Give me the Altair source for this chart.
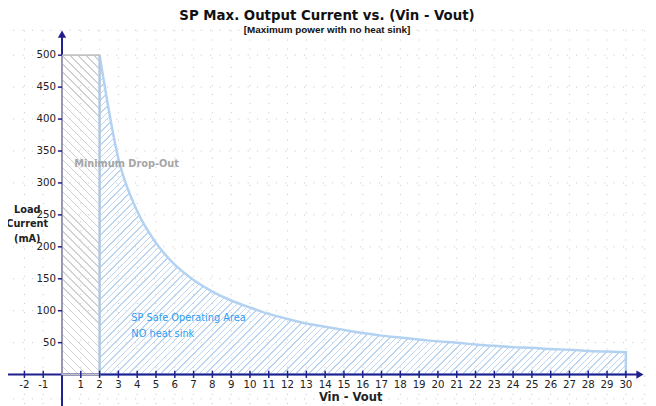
import math
import altair as alt
import pandas as pd

# ---------------- data ----------------
vd = [2, 3, 4, 5, 6, 7, 8, 9, 10, 11, 12, 13, 14, 15, 16, 17, 18, 19, 20,
      21, 22, 23, 24, 25, 26, 27, 28, 29, 30]
current = [500, 338, 256, 206, 172, 148, 130, 116, 105, 95, 87, 80, 75, 70,
           65, 61, 58, 55, 52, 50, 47, 45, 43, 42, 40, 39, 37, 36, 35]
dropout_x = [0, 2]
dropout_top = 500
x_tick_vals = [-2, -1] + list(range(1, 31))
y_tick_vals = [50, 100, 150, 200, 250, 300, 350, 400, 450, 500]
grid_x_vals = list(range(-3, 32))
grid_y_vals = [-38, 50, 100, 150, 200, 250, 300, 350, 400, 450, 500, 539]

TITLE = "SP Max. Output Current vs. (Vin - Vout)"
SUBTITLE = "[Maximum power with no heat sink]"

# ---------------- geometry / style ----------------
W, H = 648, 398
XD = [-2.874, 31.178]
YD = [-45.3, 570.0]
pxx = W / (XD[1] - XD[0])
pxy = H / (YD[1] - YD[0])
X = alt.Scale(domain=XD, nice=False, zero=False)
Y = alt.Scale(domain=YD, nice=False, zero=False)

NAVY = "#1e1e8c"
FONT = "DejaVu Sans Condensed, DejaVu Sans"
CLEAR = "rgba(255,255,255,0)"


def hatch(color, w, h, spacing, lw, direction):
    D = (w + h) / math.sqrt(2)
    if direction == "/":
        g = (1 / h, 1 / w)
        start = (0.0, 0.0)
        vec = (1.0, 1.0)
    else:
        g = (1 / h, -1 / w)
        start = (0.0, 1.0)
        vec = (1.0, -1.0)
    t = (vec[0] * g[0] + vec[1] * g[1]) / (g[0] ** 2 + g[1] ** 2)
    end = (start[0] + t * g[0], start[1] + t * g[1])
    stops = []
    n = int(D / spacing) + 1
    for k in range(n + 1):
        o = k * spacing / D
        if o > 1:
            break
        o2 = min(o + lw / D, 1.0)
        stops += [
            alt.GradientStop(color=CLEAR, offset=o),
            alt.GradientStop(color=color, offset=o),
            alt.GradientStop(color=color, offset=o2),
            alt.GradientStop(color=CLEAR, offset=o2),
        ]
    return alt.LinearGradient(gradient="linear", stops=stops,
                              x1=start[0], y1=start[1], x2=end[0], y2=end[1])


blue_w = (vd[-1] - vd[0]) * pxx
blue_h = max(current) * pxy
gray_w = (dropout_x[1] - dropout_x[0]) * pxx
gray_h = dropout_top * pxy

blue_fill = hatch("#bcd5f0", blue_w, blue_h, 4.6, 1.0, "/")
gray_fill = hatch("#d2d2d2", gray_w, gray_h, 5.7, 1.0, "\\")

# ---------------- tables ----------------
curve_df = pd.DataFrame({"vd": vd, "i": current})
drop_df = pd.DataFrame({"x": [dropout_x[0]], "x2": [dropout_x[1]],
                        "y": [0], "y2": [dropout_top]})
xt_df = pd.DataFrame({"v": x_tick_vals, "lab": [str(v) for v in x_tick_vals]})
yt_df = pd.DataFrame({"v": y_tick_vals, "lab": [str(v) for v in y_tick_vals]})
gx_df = pd.DataFrame({"v": grid_x_vals})
gy_df = pd.DataFrame({"v": grid_y_vals})
one = pd.DataFrame({"k": [0]})

# ---------------- layers ----------------
grid_v = alt.Chart(gx_df).mark_rule(color="#c4c4c4", strokeWidth=1,
                                    strokeDash=[1, 8.2]).encode(
    x=alt.X("v:Q", scale=X, axis=None),
    y=alt.Y(datum=-46, scale=Y, axis=None),
    y2=alt.Y2(datum=542),
)
grid_h = alt.Chart(gy_df).mark_rule(color="#c4c4c4", strokeWidth=1,
                                    strokeDash=[1, 8.5]).encode(
    y=alt.Y("v:Q", scale=Y, axis=None),
    x=alt.X(datum=-3.1, scale=X, axis=None),
    x2=alt.X2(datum=31.2),
)

drop_rect = alt.Chart(drop_df).mark_rect(
    fill=gray_fill, stroke="#c2c2c2", strokeWidth=1.5
).encode(
    x=alt.X("x:Q", scale=X, axis=None), x2="x2:Q",
    y=alt.Y("y:Q", scale=Y, axis=None), y2="y2:Q",
)
drop_outline = drop_rect.mark_rect(fill="transparent", stroke="#c2c2c2",
                                   strokeWidth=1.5)

area = alt.Chart(curve_df).mark_area(
    fill=blue_fill, stroke="#b3d2f2", strokeWidth=2.5, interpolate="monotone",
    strokeJoin="miter"
).encode(
    x=alt.X("vd:Q", scale=X, axis=None),
    y=alt.Y("i:Q", scale=Y, axis=None),
)

x_axis = alt.Chart(one).mark_rule(color=NAVY, strokeWidth=2).encode(
    x=alt.X(datum=-2.98, scale=X, axis=None), x2=alt.X2(datum=30.8),
    y=alt.Y(datum=0, scale=Y, axis=None),
)
y_axis = alt.Chart(one).mark_rule(color=NAVY, strokeWidth=2).encode(
    x=alt.X(datum=0, scale=X, axis=None),
    y=alt.Y(datum=-50, scale=Y, axis=None), y2=alt.Y2(datum=530),
)
x_arrow = alt.Chart(one).mark_point(
    shape="triangle-right", filled=True, color=NAVY, size=70, opacity=1
).encode(x=alt.X(datum=30.75, scale=X, axis=None),
         y=alt.Y(datum=0, scale=Y, axis=None))
y_arrow = alt.Chart(one).mark_point(
    shape="triangle-up", filled=True, color=NAVY, size=70, opacity=1
).encode(x=alt.X(datum=0, scale=X, axis=None),
         y=alt.Y(datum=533, scale=Y, axis=None))

x_ticks = alt.Chart(xt_df).mark_rule(color=NAVY, strokeWidth=1.5).encode(
    x=alt.X("v:Q", scale=X, axis=None),
    y=alt.Y(datum=6.2, scale=Y, axis=None), y2=alt.Y2(datum=-5.2),
)
y_ticks = alt.Chart(yt_df).mark_rule(color=NAVY, strokeWidth=1.5).encode(
    y=alt.Y("v:Q", scale=Y, axis=None),
    x=alt.X(datum=-0.22, scale=X, axis=None), x2=alt.X2(datum=0),
)

x_labels = alt.Chart(xt_df).mark_text(
    font=FONT, fontSize=11.5, color="#222222", baseline="middle", dy=11
).encode(
    x=alt.X("v:Q", scale=X, axis=None),
    y=alt.Y(datum=0, scale=Y, axis=None),
    text="lab:N",
)
y_labels = alt.Chart(yt_df).mark_text(
    font=FONT, fontSize=11.5, color="#222222", baseline="middle",
    align="right", dx=-6
).encode(
    y=alt.Y("v:Q", scale=Y, axis=None),
    x=alt.X(datum=0, scale=X, axis=None),
    text="lab:N",
)

drop_label = alt.Chart(one).mark_text(
    text="Minimum Drop-Out", font=FONT, fontSize=11, fontWeight="bold",
    color="#a6a6a6", align="left", baseline="middle"
).encode(x=alt.X(datum=0.65, scale=X, axis=None),
         y=alt.Y(datum=330, scale=Y, axis=None))

soa_label = alt.Chart(one).mark_text(
    text=["SP Safe Operating Area", "NO heat sink"], font=FONT, fontSize=11,
    color="#2f9cf0", align="left", baseline="middle", lineHeight=16
).encode(x=alt.X(datum=3.69, scale=X, axis=None),
         y=alt.Y(datum=88, scale=Y, axis=None))

x_title = alt.Chart(one).mark_text(
    text="Vin - Vout", font=FONT, fontSize=13, fontWeight="bold",
    color="#222222", align="center", baseline="middle"
).encode(x=alt.X(datum=15.36, scale=X, axis=None),
         y=alt.Y(datum=-34.5, scale=Y, axis=None))

y_title = alt.Chart(one).mark_text(
    text=["Load", "Current", "(mA)"], font=FONT, fontSize=11,
    fontWeight="bold", color="#222222", align="center", baseline="middle",
    lineHeight=14.5
).encode(x=alt.X(datum=-1.85, scale=X, axis=None),
         y=alt.Y(datum=257.6, scale=Y, axis=None))

chart = alt.layer(
    grid_v, grid_h, drop_rect, area, x_axis, y_axis, drop_outline,
    x_arrow, y_arrow, x_ticks, y_ticks, x_labels, y_labels,
    drop_label, soa_label, x_title, y_title,
).properties(
    width=W, height=H,
    autosize=alt.AutoSizeParams(type="none"),
    padding=0,
    title=alt.TitleParams(
        text=TITLE, subtitle=SUBTITLE, anchor="middle", orient="top",
        offset=-28, dx=-1, dy=-3,
        font=FONT, fontSize=15, fontWeight="bold", color="#111111",
        subtitleFont="Liberation Sans", subtitleFontSize=10,
        subtitleFontWeight="bold", subtitleColor="#111111",
        subtitlePadding=2,
    ),
).configure_view(stroke=None)

chart.save("out.html", embed_options={"renderer": "svg", "actions": False})
